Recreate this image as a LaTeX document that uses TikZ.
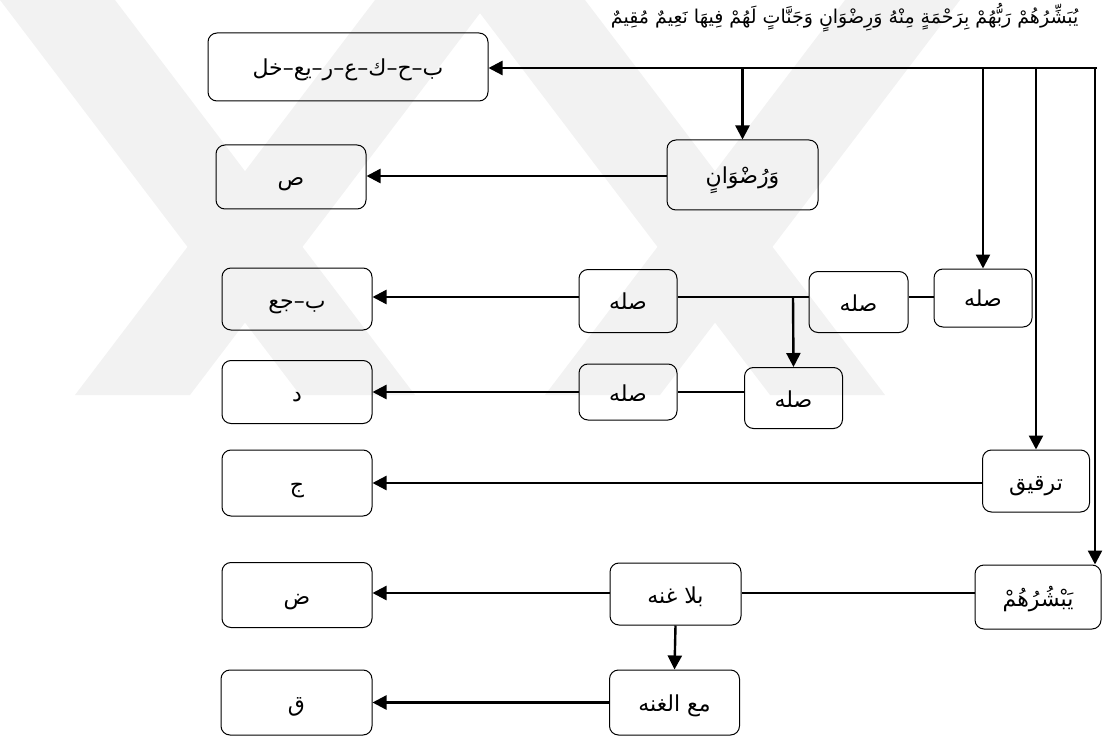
\documentclass[tikz,border=0pt]{standalone}
\usepackage{fontspec}
\TeXXeTstate=1
\newfontfamily\arabicfont[Script=Arabic]{DejaVu Sans}
\usetikzlibrary{arrows.meta}
% right-to-left Arabic run
\newcommand{\rtl}[1]{{\arabicfont\beginR #1\endR}}
% box label, with its baseline sunk below the box centre
\newcommand{\lbl}[1]{\raisebox{-9pt}[0pt][0pt]{\rtl{#1}}}

\begin{document}
\begin{tikzpicture}[x=1pt,y=-1pt,
  box/.style={draw,line width=1pt,rounded corners=9pt,inner sep=0pt,
              font=\fontsize{22}{25}\selectfont},
  link/.style={line width=2.4pt},
  arr/.style={link,-{Triangle[length=14pt,width=14pt]}},
  chevron/.style={fill=black!5,draw=none}]
\useasboundingbox (0,0) rectangle (1103,746);

% faint crossed bands in the background
\fill[chevron] (0,0) -- (115,0) -- (415,395) -- (300,395) -- cycle;
\fill[chevron] (375,0) -- (490,0) -- (190,395) -- (75,395) -- cycle;
\fill[chevron] (470,0) -- (585,0) -- (885,395) -- (770,395) -- cycle;
\fill[chevron] (845,0) -- (960,0) -- (660,395) -- (545,395) -- cycle;

% verse heading
\node[anchor=east] (verse) at (1082,18) {\fontsize{19}{22}\selectfont\rtl{يُبَشِّرُهُمْ رَبُّهُمْ بِرَحْمَةٍ مِنْهُ وَرِضْوَانٍ وَجَنَّاتٍ لَهُمْ فِيهَا نَعِيمٌ مُقِيمٌ}};

% boxes
\node[box,minimum width=280pt,minimum height=68pt] (letters) at (348,67) {\lbl{ب–ح–ك–ع–ر–يع–خل}};
\node[box,minimum width=151pt,minimum height=70pt] (ridwan) at (742.5,175) {\lbl{وَرُضْوَانٍ}};
\node[box,minimum width=150pt,minimum height=64pt] (sad) at (291,177) {\lbl{ص}};

\node[box,minimum width=98pt,minimum height=58pt] (silaA) at (983,298) {\lbl{صله}};
\node[box,minimum width=99pt,minimum height=61pt] (silaB) at (858.5,302) {\lbl{صله}};
\node[box,minimum width=98pt,minimum height=63pt] (silaC) at (628,301) {\lbl{صله}};
\node[box,minimum width=150pt,minimum height=62pt] (bjaa) at (297,299) {\lbl{ب–جع}};

\node[box,minimum width=98pt,minimum height=61pt] (silaD) at (793.5,398) {\lbl{صله}};
\node[box,minimum width=98pt,minimum height=56pt] (silaE) at (628,392) {\lbl{صله}};
\node[box,minimum width=150pt,minimum height=63pt] (dal) at (297,392) {\lbl{د}};

\node[box,minimum width=107pt,minimum height=62pt] (tarqiq) at (1036,481) {\lbl{ترقيق}};
\node[box,minimum width=150pt,minimum height=66pt] (jim) at (297,483) {\lbl{ج}};

\node[box,minimum width=126pt,minimum height=64pt] (yub) at (1038,597) {\lbl{يَبْشُرُهُمْ}};
\node[box,minimum width=131pt,minimum height=62pt] (bila) at (675.5,594) {\lbl{بلا غنه}};
\node[box,minimum width=150pt,minimum height=65pt] (dad) at (297,595) {\lbl{ض}};

\node[box,minimum width=130pt,minimum height=65pt] (maa) at (674.5,702.5) {\lbl{مع الغنه}};
\node[box,minimum width=151pt,minimum height=65pt] (qaf) at (296.5,702.5) {\lbl{ق}};

% main trunk from the right edge
\coordinate (trunk) at (1097,68);
\coordinate (drop) at (1095,68);
\draw[arr] (trunk) -- (letters.east |- trunk);
\draw[arr] (ridwan.north |- trunk) -- (ridwan.north);
\draw[arr] (silaA.north |- trunk) -- (silaA.north);
\draw[arr] (tarqiq.north |- trunk) -- (tarqiq.north);
\draw[arr] (drop) -- (drop |- yub.north);

% branches
\coordinate (rowB) at (0,176);
\draw[arr] (ridwan.west |- rowB) -- (sad.east |- rowB);

\coordinate (split) at (793,297);
\draw[link] (silaA.west |- split) -- (silaB.east |- split);
\draw[link] (silaB.west |- split) -- (silaC.east |- split);
\draw[arr] (silaC.west |- split) -- (bjaa.east |- split);
\draw[arr] (split) -- (silaD.north);

\draw[link] (silaD.west |- silaE.east) -- (silaE.east);
\draw[arr] (silaE.west) -- (dal.east |- silaE.west);

\coordinate (rowE) at (0,483);
\draw[arr] (tarqiq.west |- rowE) -- (jim.east |- rowE);

\coordinate (rowF) at (0,593);
\draw[link] (yub.west |- rowF) -- (bila.east |- rowF);
\draw[arr] (bila.west |- rowF) -- (dad.east |- rowF);
\draw[arr] (bila.south) -- (maa.north);
\draw[arr] (maa.west) -- (qaf.east |- maa.west);
\end{tikzpicture}
\end{document}
